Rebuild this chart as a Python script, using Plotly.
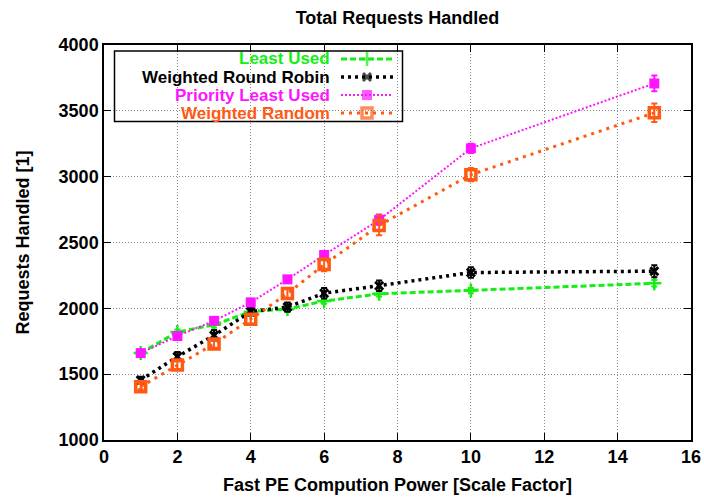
import plotly.graph_objects as go

# ---------------- data ----------------
x_power = [1, 2, 3, 4, 5, 6, 7.5, 10, 15]

least_used = [1660, 1820, 1875, 1975, 1995, 2055, 2110, 2135, 2190]
least_used_err = [15, 20, 20, 20, 20, 20, 20, 20, 25]

wrr = [1455, 1633, 1795, 1975, 2010, 2115, 2172, 2272, 2282]
wrr_err = [25, 35, 40, 30, 35, 40, 40, 40, 45]

plu = [1660, 1790, 1905, 2045, 2220, 2405, 2672, 3215, 3708]
plu_err = [15, 20, 20, 20, 25, 30, 40, 35, 60]

wr = [1405, 1570, 1730, 1918, 2112, 2332, 2630, 3015, 3485]
wr_err = [20, 30, 30, 35, 40, 50, 75, 50, 70]

series_names = ["Least Used", "Weighted Round Robin", "Priority Least Used", "Weighted Random"]

x_ticks = [0, 2, 4, 6, 8, 10, 12, 14, 16]
y_ticks = [1000, 1500, 2000, 2500, 3000, 3500, 4000]

# ---------------- styles ----------------
GREEN = "#14ee14"
BLACK = "#000000"
MAGENTA = "#ff14ff"
ORANGE = "#ff5a14"
FONT = "Liberation Sans, Arial, Helvetica, sans-serif"

styles = [
    dict(color=GREEN, dash="6px,3px", lw=3, symbol="cross-thin", msize=10, mlw=2.5),
    dict(color=BLACK, dash="3px,4px", lw=3.5, symbol="x-thin", msize=8, mlw=3),
    dict(color=MAGENTA, dash="2px,2px", lw=2, symbol="square", msize=10, mlw=0),
    dict(color=ORANGE, dash="3px,5px", lw=3, symbol="square-open", msize=10, mlw=3.5),
]
values = [(least_used, least_used_err), (wrr, wrr_err), (plu, plu_err), (wr, wr_err)]

W, H = 704, 497
L, R, T, B = 104, 691, 45, 440  # plot area pixels


def px(xp):
    return (xp - L) / (R - L)


def py(yp):
    return (B - yp) / (B - T)


fig = go.Figure()

for name, (vals, errs), st in zip(series_names, values, styles):
    fig.add_trace(go.Scatter(
        x=x_power, y=vals, name=name, mode="lines+markers",
        line=dict(color=st["color"], width=st["lw"], dash=st["dash"]),
        marker=dict(symbol=st["symbol"], size=st["msize"], color=st["color"],
                    line=dict(color=st["color"], width=st["mlw"])),
        error_y=dict(type="data", array=errs, visible=True, color=st["color"],
                     thickness=2, width=3),
        showlegend=False,
    ))

# ---------------- custom legend (gnuplot style) ----------------
row_y = [59, 77, 95, 113]
for name, st, ry in zip(series_names, styles, row_y):
    fig.add_trace(go.Scatter(
        x=[px(341), px(367), px(393)], y=[py(ry)] * 3, mode="lines+markers",
        xaxis="x2", yaxis="y2",
        line=dict(color=st["color"], width=st["lw"], dash=st["dash"]),
        marker=dict(symbol=st["symbol"], size=[0, st["msize"], 0], color=st["color"],
                    line=dict(color=st["color"], width=st["mlw"])),
        showlegend=False, hoverinfo="skip",
    ))
    fig.add_annotation(
        x=px(331), y=py(ry), xref="paper", yref="paper", xanchor="right", yanchor="middle",
        text=name, showarrow=False, borderpad=0,
        font=dict(family=FONT, size=17, color=st["color"], weight="bold"),
    )

fig.add_shape(type="rect", xref="paper", yref="paper",
              x0=px(114.5), x1=px(402.5), y0=py(121.5), y1=py(51),
              line=dict(color="black", width=1.5), fillcolor="white", layer="between")

axis_font = dict(family=FONT, size=18, color="black", weight="bold")

fig.update_layout(
    width=W, height=H,
    margin=dict(l=L, r=W - R, t=T, b=H - B, autoexpand=False),
    paper_bgcolor="white", plot_bgcolor="white",
    title=dict(text="Total Requests Handled", x=(L + R) / 2 / W, xanchor="center",
               y=1 - 18 / H, yanchor="middle", automargin=False,
               font=dict(family=FONT, size=18, color="black", weight="bold")),
    xaxis=dict(
        range=[0, 16], tickvals=x_ticks, ticktext=[str(v) for v in x_ticks],
        showline=True, linecolor="black", linewidth=1.5, mirror="allticks",
        ticks="inside", ticklen=7, tickcolor="black", tickwidth=1,
        showgrid=True, gridcolor="#888888", griddash="1px,2px", gridwidth=1,
        zeroline=False, tickfont=axis_font, automargin=False,
        title=dict(text="Fast PE Compution Power [Scale Factor]", font=axis_font, standoff=12),
    ),
    yaxis=dict(
        range=[1000, 4000], tickvals=y_ticks, ticktext=[str(v) for v in y_ticks],
        showline=True, linecolor="black", linewidth=1.5, mirror="allticks",
        ticks="inside", ticklen=7, tickcolor="black", tickwidth=1,
        showgrid=True, gridcolor="#888888", griddash="1px,2px", gridwidth=1,
        zeroline=False, tickfont=axis_font, automargin=False,
        title=dict(text="Requests Handled [1]", font=axis_font, standoff=24),
    ),
    xaxis2=dict(overlaying="x", range=[0, 1], visible=False, showgrid=False, zeroline=False),
    yaxis2=dict(overlaying="y", range=[0, 1], visible=False, showgrid=False, zeroline=False),
)

fig.write_html(
    "out.html",
    config={"displayModeBar": False},
    post_script="document.body.style.margin='0';document.body.style.overflow='hidden';",
)
